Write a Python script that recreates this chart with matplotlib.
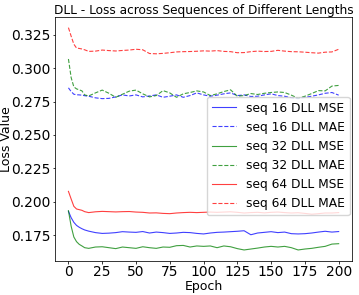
import matplotlib
matplotlib.use("Agg")
import matplotlib.pyplot as plt

# epochs sampled from the curves
epochs = [0, 2, 4, 6, 8, 10, 12] + list(range(15, 201, 5))

seq16_mse = [0.1928, 0.1880, 0.1845, 0.1822, 0.1808, 0.1797, 0.1788, 0.1779, 0.1768, 0.1762,
             0.1764, 0.1768, 0.1775, 0.1772, 0.1770, 0.1776, 0.1765, 0.1772, 0.1768, 0.1762,
             0.1765, 0.1770, 0.1768, 0.1762, 0.1758, 0.1765, 0.1770, 0.1772, 0.1775, 0.1778,
             0.1782, 0.1752, 0.1765, 0.1770, 0.1775, 0.1768, 0.1772, 0.1760, 0.1758, 0.1760,
             0.1765, 0.1772, 0.1778, 0.1772, 0.1776]
seq16_mae = [0.2853, 0.2825, 0.2805, 0.2801, 0.2800, 0.2798, 0.2794, 0.2790, 0.2778, 0.2772,
             0.2774, 0.2785, 0.2800, 0.2792, 0.2800, 0.2785, 0.2792, 0.2800, 0.2782, 0.2790,
             0.2800, 0.2782, 0.2795, 0.2815, 0.2800, 0.2790, 0.2798, 0.2808, 0.2815, 0.2795,
             0.2800, 0.2788, 0.2790, 0.2800, 0.2808, 0.2795, 0.2790, 0.2778, 0.2772, 0.2782,
             0.2790, 0.2800, 0.2812, 0.2818, 0.2798]
seq32_mse = [0.1932, 0.1816, 0.1735, 0.1700, 0.1680, 0.1668, 0.1655, 0.1650, 0.1660, 0.1662,
             0.1655, 0.1648, 0.1660, 0.1655, 0.1650, 0.1662, 0.1655, 0.1650, 0.1660, 0.1658,
             0.1670, 0.1672, 0.1660, 0.1668, 0.1665, 0.1668, 0.1655, 0.1668, 0.1662, 0.1648,
             0.1638, 0.1645, 0.1652, 0.1660, 0.1665, 0.1660, 0.1665, 0.1655, 0.1638, 0.1645,
             0.1650, 0.1658, 0.1665, 0.1682, 0.1685]
seq32_mae = [0.3069, 0.2930, 0.2860, 0.2845, 0.2838, 0.2830, 0.2800, 0.2792, 0.2815, 0.2836,
             0.2812, 0.2782, 0.2805, 0.2828, 0.2836, 0.2808, 0.2785, 0.2795, 0.2832, 0.2815,
             0.2782, 0.2808, 0.2818, 0.2830, 0.2822, 0.2795, 0.2808, 0.2825, 0.2838, 0.2790,
             0.2795, 0.2810, 0.2803, 0.2812, 0.2818, 0.2822, 0.2818, 0.2798, 0.2775, 0.2790,
             0.2810, 0.2832, 0.2830, 0.2866, 0.2871]
seq64_mse = [0.2077, 0.2020, 0.1965, 0.1945, 0.1940, 0.1935, 0.1925, 0.1918, 0.1924, 0.1927,
             0.1925, 0.1923, 0.1925, 0.1926, 0.1922, 0.1920, 0.1915, 0.1916, 0.1912, 0.1910,
             0.1915, 0.1918, 0.1920, 0.1918, 0.1920, 0.1922, 0.1920, 0.1922, 0.1924, 0.1920,
             0.1915, 0.1918, 0.1920, 0.1916, 0.1920, 0.1922, 0.1918, 0.1915, 0.1917, 0.1912,
             0.1906, 0.1910, 0.1915, 0.1915, 0.1918]
seq64_mae = [0.3304, 0.3240, 0.3180, 0.3151, 0.3148, 0.3144, 0.3138, 0.3126, 0.3128, 0.3136,
             0.3132, 0.3129, 0.3133, 0.3136, 0.3142, 0.3138, 0.3110, 0.3108, 0.3111, 0.3116,
             0.3122, 0.3124, 0.3125, 0.3127, 0.3130, 0.3128, 0.3132, 0.3126, 0.3124, 0.3116,
             0.3117, 0.3124, 0.3128, 0.3125, 0.3126, 0.3134, 0.3128, 0.3124, 0.3123, 0.3120,
             0.3116, 0.3113, 0.3120, 0.3122, 0.3142]

series = [
    ("seq 16 DLL MSE", seq16_mse, "b", "-"),
    ("seq 16 DLL MAE", seq16_mae, "b", "--"),
    ("seq 32 DLL MSE", seq32_mse, "g", "-"),
    ("seq 32 DLL MAE", seq32_mae, "g", "--"),
    ("seq 64 DLL MSE", seq64_mse, "r", "-"),
    ("seq 64 DLL MAE", seq64_mae, "r", "--"),
]

plt.rcParams['font.size'] = 8.8
plt.rcParams['axes.linewidth'] = 0.55

fig, ax = plt.subplots(figsize=(3.59, 2.95), dpi=100)
fig.subplots_adjust(left=0.153, right=0.981, bottom=0.115, top=0.944)

for label, vals, color, ls in series:
    ax.plot(epochs, vals, color=color, linestyle=ls, linewidth=0.8, alpha=0.75, label=label)

ax.set_title("DLL - Loss across Sequences of Different Lengths", fontsize=8.7, pad=2)
ax.set_xlabel("Epoch", fontsize=9, labelpad=0.5)
ax.set_ylabel("Loss Value", fontsize=9)
ax.yaxis.set_label_coords(-0.142, 0.5)
ax.set_xticks(range(0, 201, 25))
ax.set_yticks([0.175, 0.200, 0.225, 0.250, 0.275, 0.300, 0.325])
ax.tick_params(labelsize=10, length=1.8, width=0.55, pad=1.2)
ax.legend(loc="center right", bbox_to_anchor=(1.0, 0.43), borderaxespad=0.2)

fig.savefig("out.png", dpi=100)
